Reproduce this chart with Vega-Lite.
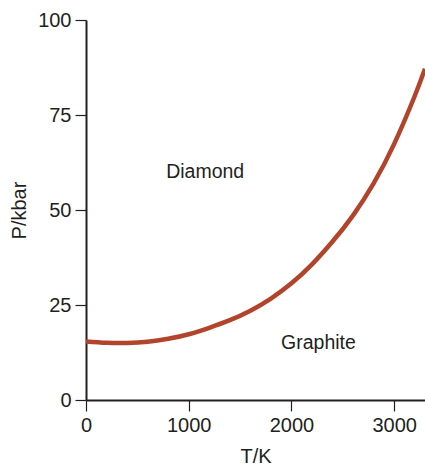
{
  "$schema": "https://vega.github.io/schema/vega-lite/v6.json",
  "width": 339,
  "height": 380,
  "autosize": "none",
  "padding": {"left": 86, "top": 20, "right": 0, "bottom": 66},
  "background": "white",
  "config": {
    "view": {"stroke": null},
    "font": "Liberation Sans",
    "axis": {
      "domainColor": "#231f20",
      "domainWidth": 2,
      "tickColor": "#231f20",
      "tickWidth": 1.2,
      "tickSize": 11,
      "labelFont": "Liberation Sans",
      "labelFontSize": 20,
      "labelColor": "#231f20",
      "titleFont": "Liberation Sans",
      "titleFontSize": 20,
      "titleFontWeight": "normal",
      "titleColor": "#231f20",
      "grid": false
    }
  },
  "datasets": {
    "curve": [
      {"T": 0, "P": 15.4},
      {"T": 200, "P": 15.05},
      {"T": 400, "P": 15.0},
      {"T": 600, "P": 15.3},
      {"T": 800, "P": 16.1},
      {"T": 1000, "P": 17.3},
      {"T": 1200, "P": 19.0},
      {"T": 1400, "P": 21.0},
      {"T": 1600, "P": 23.5},
      {"T": 1800, "P": 26.7},
      {"T": 2000, "P": 30.7},
      {"T": 2200, "P": 35.7},
      {"T": 2400, "P": 41.7},
      {"T": 2600, "P": 48.6},
      {"T": 2800, "P": 57.0},
      {"T": 3000, "P": 67.4},
      {"T": 3200, "P": 80.0},
      {"T": 3300, "P": 87.2}
    ],
    "labels": [
      {"T": 1160, "P": 60, "name": "Diamond"},
      {"T": 2263, "P": 15, "name": "Graphite"}
    ]
  },
  "layer": [
    {
      "data": {"name": "curve"},
      "mark": {"type": "line", "color": "#b1442a", "strokeWidth": 4.5, "interpolate": "natural", "clip": true},
      "encoding": {
        "x": {"field": "T", "type": "quantitative", "scale": {"domain": [0, 3300], "nice": false},
          "axis": {"values": [0, 1000, 2000, 3000], "format": "d", "title": "T/K", "labelPadding": 4, "titlePadding": 11, "labelFlush": false}},
        "y": {"field": "P", "type": "quantitative", "scale": {"domain": [0, 100], "nice": false},
          "axis": {"values": [0, 25, 50, 75, 100], "title": "P/kbar", "labelPadding": 4, "titlePadding": 8}}
      }
    },
    {
      "mark": {"type": "rule", "color": "#231f20", "strokeWidth": 2},
      "encoding": {"y": {"datum": 100}}
    },
    {
      "data": {"name": "labels"},
      "mark": {"type": "text", "fontSize": 19.5, "color": "#231f20", "align": "center", "baseline": "middle"},
      "encoding": {
        "x": {"field": "T", "type": "quantitative"},
        "y": {"field": "P", "type": "quantitative"},
        "text": {"field": "name"}
      }
    }
  ]
}
